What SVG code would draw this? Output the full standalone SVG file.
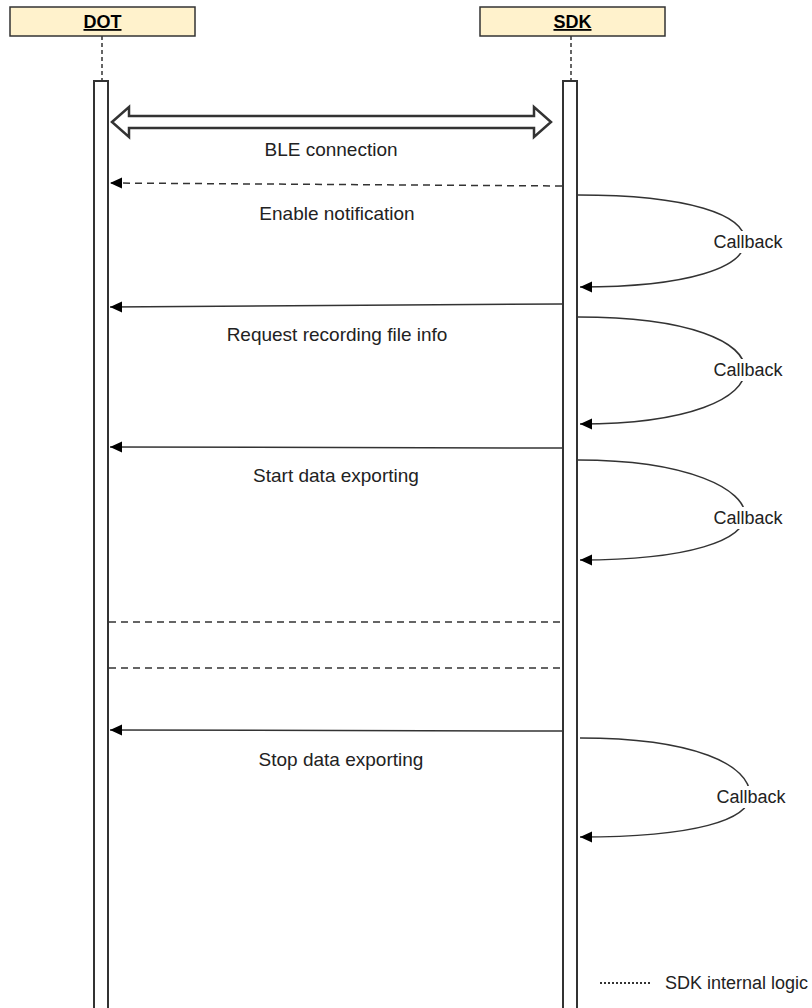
<svg xmlns="http://www.w3.org/2000/svg" width="812" height="1008" viewBox="0 0 812 1008">
<style>
.hdr{fill:#fff2cc;stroke:#333;stroke-width:1.5}
.hdrt{font-family:"Liberation Sans",Arial,sans-serif;font-size:18px;font-weight:bold;text-decoration:underline;fill:#000}
.life{stroke:#333;stroke-width:1.5;stroke-dasharray:4 3;fill:none}
.bar{fill:#fff;stroke:#333;stroke-width:2}
.msg{stroke:#333;stroke-width:1.5;fill:none}
.dash{stroke:#333;stroke-width:1.5;fill:none;stroke-dasharray:7 5}
.lbl{font-family:"Liberation Sans",Arial,sans-serif;font-size:19px;fill:#222;text-anchor:middle}
.cb{font-family:"Liberation Sans",Arial,sans-serif;font-size:18px;fill:#222;text-anchor:middle}
</style>
<defs>
<marker id="arr" viewBox="0 0 12 12" refX="12" refY="6" markerWidth="12" markerHeight="12" markerUnits="userSpaceOnUse" orient="auto">
<path d="M0,0.5 L12,6 L0,11.5 Z" fill="#000"/>
</marker>
</defs>
<rect width="812" height="1008" fill="#fff"/>
<g id="dot">
<rect class="hdr" x="10" y="7" width="185" height="29"/>
<text class="hdrt" x="102.5" y="28" text-anchor="middle">DOT</text>
<line class="life" x1="102" y1="36" x2="102" y2="81"/>
<rect class="bar" x="94" y="81" width="14" height="940"/>
</g>
<g id="sdk">
<rect class="hdr" x="480" y="7" width="185" height="29"/>
<text class="hdrt" x="572.5" y="28" text-anchor="middle">SDK</text>
<line class="life" x1="571" y1="36" x2="571" y2="81"/>
<rect class="bar" x="563" y="81" width="14" height="940"/>
</g>
<g id="connectors">
<path d="M112,122 L129,107 L129,116 L534,116 L534,107 L551,122 L534,137 L534,128 L129,128 L129,137 Z" fill="#fff" stroke="#333" stroke-width="2.5" stroke-linejoin="miter"/>
<text class="lbl" x="331" y="156">BLE connection</text>
<line class="dash" x1="562" y1="186" x2="110" y2="183" marker-end="url(#arr)"/>
<text class="lbl" x="337" y="220">Enable notification</text>
<path class="msg" d="M578,195 C690,195 745,215 745,241 C745,267 690,287 580,287" marker-end="url(#arr)"/>
<rect x="712" y="231" width="72" height="22" fill="#fff"/>
<text class="cb" x="748" y="248">Callback</text>
<line class="msg" x1="562" y1="304" x2="110" y2="307" marker-end="url(#arr)"/>
<text class="lbl" x="337" y="341">Request recording file info</text>
<path class="msg" d="M578,317 C690,317 745,342 745,370 C745,398 690,424 580,424" marker-end="url(#arr)"/>
<rect x="712" y="359" width="72" height="22" fill="#fff"/>
<text class="cb" x="748" y="376">Callback</text>
<line class="msg" x1="562" y1="448" x2="110" y2="447" marker-end="url(#arr)"/>
<text class="lbl" x="336" y="482">Start data exporting</text>
<path class="msg" d="M578,460 C690,460 745,490 745,515 C745,540 690,560 580,560" marker-end="url(#arr)"/>
<rect x="712" y="507" width="72" height="22" fill="#fff"/>
<text class="cb" x="748" y="524">Callback</text>
<line class="dash" x1="109" y1="622" x2="562" y2="622"/>
<line class="dash" x1="109" y1="668" x2="562" y2="668"/>
<line class="msg" x1="562" y1="731" x2="110" y2="730" marker-end="url(#arr)"/>
<text class="lbl" x="341" y="766">Stop data exporting</text>
<path class="msg" d="M580,738 C695,738 750,765 750,795 C750,820 695,837 580,837" marker-end="url(#arr)"/>
<rect x="715" y="786" width="72" height="22" fill="#fff"/>
<text class="cb" x="751" y="803">Callback</text>
</g>
<g id="legend">
<line x1="600" y1="983" x2="652" y2="983" stroke="#333" stroke-width="2" stroke-dasharray="2 2"/>
<text x="665" y="989" font-family="'Liberation Sans',Arial,sans-serif" font-size="18" fill="#222">SDK internal logic</text>
</g>
</svg>
